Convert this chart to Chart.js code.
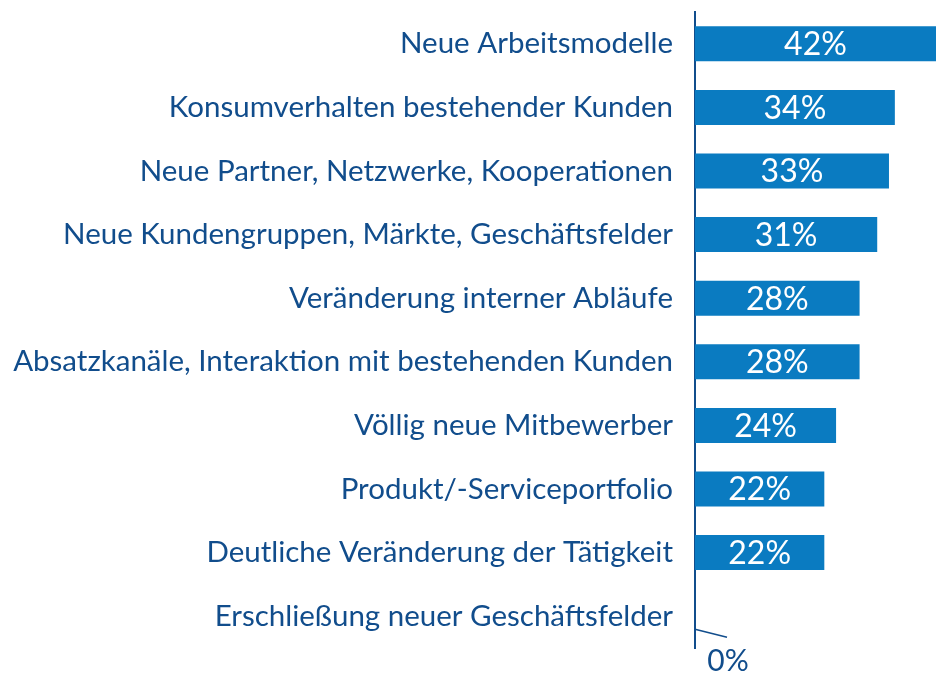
<!DOCTYPE html>
<html>
<head>
<meta charset="utf-8">
<script src="https://cdn.jsdelivr.net/npm/chart.js@4.4.0/dist/chart.umd.min.js"></script>
<style>
  html, body { margin: 0; padding: 0; background: #fff; }
  #wrap { width: 936px; height: 675px; position: relative; }
</style>
</head>
<body>
<div id="wrap"><canvas id="grafico"></canvas></div>
<script>
// Kategorien und Werte (in %)
const kategorien = [
    'Neue Arbeitsmodelle',
    'Konsumverhalten bestehender Kunden',
    'Neue Partner, Netzwerke, Kooperationen',
    'Neue Kundengruppen, Märkte, Geschäftsfelder',
    'Veränderung interner Abläufe',
    'Absatzkanäle, Interaktion mit bestehenden Kunden',
    'Völlig neue Mitbewerber',
    'Produkt/-Serviceportfolio',
    'Deutliche Veränderung der Tätigkeit',
    'Erschließung neuer Geschäftsfelder'
];
const werte = [42, 34, 33, 31, 28, 28, 24, 22, 22, 0];

const BLAU = '#0a7bc1';
const DUNKELBLAU = '#114d8c';
const SCHRIFT = 'Lato, "Open Sans", sans-serif';

// Prozentwerte in die Balken schreiben
const wertBeschriftung = {
    id: 'wertBeschriftung',
    afterDatasetsDraw(chart) {
        const ctx = chart.ctx;
        const area = chart.chartArea;
        const meta = chart.getDatasetMeta(0);
        ctx.save();
        ctx.textAlign = 'center';
        ctx.textBaseline = 'middle';
        meta.data.forEach((bar, i) => {
            const wert = werte[i];
            if (wert > 0) {
                const ende = Math.min(bar.x, area.right);
                ctx.fillStyle = '#ffffff';
                ctx.font = '32px ' + SCHRIFT;
                ctx.fillText(wert + '%', (bar.base + ende) / 2, bar.y + 1);
            } else {
                // kleine Hinweislinie + Beschriftung unter der Achse
                ctx.strokeStyle = DUNKELBLAU;
                ctx.lineWidth = 1.5;
                ctx.beginPath();
                ctx.moveTo(bar.base, bar.y + 13);
                ctx.lineTo(bar.base + 32, bar.y + 21);
                ctx.stroke();
                ctx.fillStyle = DUNKELBLAU;
                ctx.font = '30px ' + SCHRIFT;
                ctx.fillText(wert + '%', bar.base + 33, bar.y + 45);
            }
        });
        ctx.restore();
    }
};

const ctx = document.getElementById('grafico').getContext('2d');
new Chart(ctx, {
    type: 'bar',
    data: {
        labels: kategorien,
        datasets: [{
            data: werte,
            backgroundColor: BLAU,
            borderWidth: 0,
            barPercentage: 0.55,
            categoryPercentage: 1
        }]
    },
    options: {
        indexAxis: 'y',
        responsive: true,
        maintainAspectRatio: false,
        animation: false,
        layout: { padding: { top: 12, bottom: 27, right: 0, left: 0 } },
        plugins: {
            legend: { display: false },
            tooltip: { enabled: false }
        },
        scales: {
            x: {
                display: false,
                min: 0,
                max: 41
            },
            y: {
                grid: { display: false, drawTicks: false },
                border: { display: true, color: DUNKELBLAU, width: 2 },
                ticks: {
                    color: DUNKELBLAU,
                    padding: 22,
                    font: { family: SCHRIFT, size: 29.5 }
                },
                afterFit(scale) {
                    scale.width = 695;
                    scale.paddingTop = 0;
                    scale.paddingBottom = 0;
                }
            }
        }
    },
    plugins: [wertBeschriftung]
});
</script>
</body>
</html>
